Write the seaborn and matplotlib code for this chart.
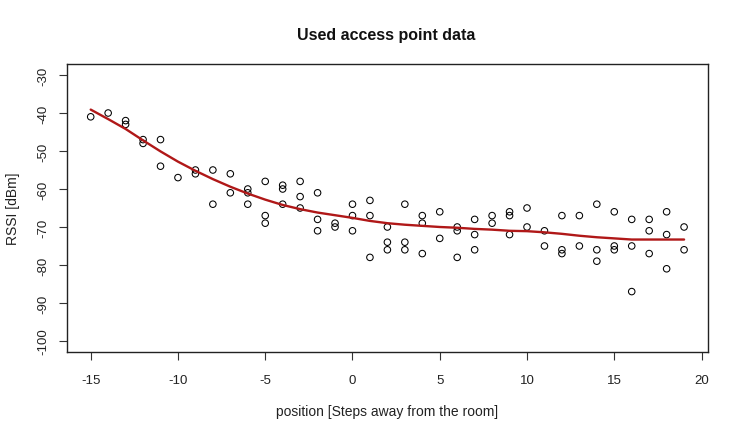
import numpy as np
import pandas as pd
import matplotlib
matplotlib.use("Agg")
import matplotlib.pyplot as plt
import seaborn as sns

# ---- data ----
pos_points = (
    [-15] + [-14] + [-13] * 2 + [-12] * 2 + [-11] * 2 + [-10] + [-9] * 2 + [-8] * 2 +
    [-7] * 2 + [-6] * 3 + [-5] * 3 + [-4] * 3 + [-3] * 3 + [-2] * 3 + [-1] * 2 +
    [0] * 3 + [1] * 3 + [2] * 3 + [3] * 3 + [4] * 3 + [5] * 2 + [6] * 3 + [7] * 3 +
    [8] * 2 + [9] * 3 + [10] * 2 + [11] * 2 + [12] * 3 + [13] * 2 + [14] * 3 +
    [15] * 3 + [16] * 3 + [17] * 3 + [18] * 3 + [19] * 2
)
rssi_points = [
    -41,
    -40,
    -42, -43,
    -47, -48,
    -47, -54,
    -57,
    -55, -56,
    -55, -64,
    -56, -61,
    -60, -61, -64,
    -58, -67, -69,
    -59, -60, -64,
    -58, -62, -65,
    -61, -68, -71,
    -69, -70,
    -64, -67, -71,
    -63, -67, -78,
    -70, -74, -76,
    -64, -74, -76,
    -67, -69, -77,
    -66, -73,
    -70, -71, -78,
    -68, -72, -76,
    -67, -69,
    -66, -67, -72,
    -65, -70,
    -71, -75,
    -67, -76, -77,
    -67, -75,
    -64, -76, -79,
    -66, -75, -76,
    -68, -75, -87,
    -68, -71, -77,
    -66, -72, -81,
    -70, -76,
]

smooth_pos = list(range(-15, 20))
smooth_rssi = [
    -39.1, -41.6, -44.2, -47.2, -50.1, -52.8, -55.2, -57.4, -59.4, -61.2,
    -62.8, -64.2, -65.3, -66.2, -66.9, -67.6, -68.4, -69.0, -69.4, -69.7,
    -70.0, -70.2, -70.5, -70.7, -71.0, -71.1, -71.4, -71.8, -72.3, -72.7,
    -73.0, -73.3, -73.3, -73.3, -73.3,
]

x_ticks = [-15, -10, -5, 0, 5, 10, 15, 20]
y_ticks = [-30, -40, -50, -60, -70, -80, -90, -100]

title = "Used access point data"
x_label = "position [Steps away from the room]"
y_label = "RSSI [dBm]"

# ---- plotting ----
sns.set_theme(style="white")
plt.rcParams["font.family"] = ["Liberation Sans", "DejaVu Sans"]

pts = pd.DataFrame({"pos": pos_points, "rssi": rssi_points})
sm = pd.DataFrame({"pos": smooth_pos, "rssi": smooth_rssi})

fig = plt.figure(figsize=(7.4, 4.35), dpi=100)
ax = fig.add_axes([0.0905, 0.1894, 0.866, 0.6603])

sns.scatterplot(data=pts, x="pos", y="rssi", ax=ax, marker="o", s=22,
                facecolors="none", edgecolor="black", linewidth=0.75, zorder=3)
sns.lineplot(data=sm, x="pos", y="rssi", ax=ax, color="#b01818", linewidth=1.7,
             zorder=4)

ax.set_xlim(-16.36, 20.36)
ax.set_ylim(-102.8, -27.2)
ax.set_xticks(x_ticks)
ax.set_yticks(y_ticks)
ax.set_xticklabels([str(t) for t in x_ticks], fontsize=9.5, color="#222222")
ax.set_yticklabels([str(t) for t in y_ticks], fontsize=9.5, color="#222222",
                   rotation=90, va="center")

ax.tick_params(axis="x", direction="out", length=6, width=0.8,
               color="#333333", bottom=True, pad=10)
ax.tick_params(axis="y", direction="out", length=6, width=0.8,
               color="#333333", left=True, pad=7)

for s in ax.spines.values():
    s.set_visible(True)
    s.set_color("#222222")
    s.set_linewidth(1.0)
ax.grid(False)

ax.set_xlabel(x_label, fontsize=10, color="#222222", labelpad=13)
ax.set_ylabel(y_label, fontsize=10, color="#222222", labelpad=12)
fig.text(0.522, 0.918, title, ha="center", va="center", fontsize=11.5,
         fontweight="bold", color="#111111")

fig.savefig("out.png", dpi=100, facecolor="white")
